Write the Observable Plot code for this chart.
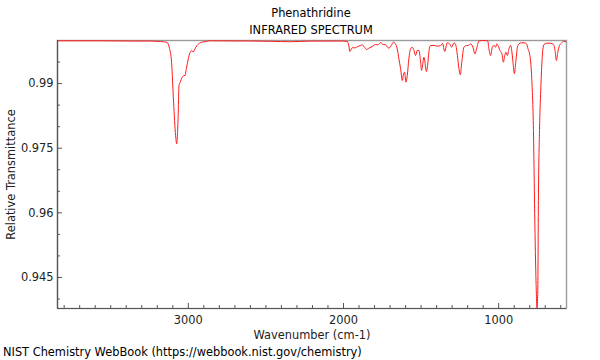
<!DOCTYPE html>
<html>
<head>
<meta charset="utf-8">
<script src="https://cdn.jsdelivr.net/npm/d3@7"></script>
<script src="https://cdn.jsdelivr.net/npm/@observablehq/plot@0.6"></script>
<style>
  body { margin: 0; background: #fff; }
  #wrap { position: relative; width: 600px; height: 360px; font-family: "DejaVu Sans", sans-serif; font-size: 11.4px; color: #000; }
  .t { position: absolute; left: 0; width: 622px; text-align: center; line-height: 14px; white-space: nowrap; }
  #cap { position: absolute; left: 3px; top: 344px; line-height: 16px; white-space: nowrap; }
  #chart { position: absolute; left: 0; top: 36px; }
</style>
</head>
<body>
<div id="wrap">
  <div class="t" style="top:6px">Phenathridine</div>
  <div class="t" style="top:23px">INFRARED SPECTRUM</div>
  <div id="chart"></div>
  <div id="cap">NIST Chemistry WebBook (https://webbook.nist.gov/chemistry)</div>
</div>
<script>
// Spectrum values
const wavenumber = [
  3843, 3568, 3374, 3245, 3200, 3161, 3137, 3121, 3108, 3095,
  3082, 3075, 3066, 3060, 3052, 3039, 3030, 3021, 3013, 3000,
  2992, 2979, 2970, 2957, 2944, 2923, 2890, 2858, 2600, 2471,
  2342, 2213, 2019, 1976, 1966, 1959, 1944, 1923, 1908, 1890,
  1879, 1865, 1852, 1837, 1815, 1794, 1779, 1761, 1744, 1729,
  1708, 1692, 1679, 1665, 1654, 1643, 1632, 1621, 1615, 1606,
  1598, 1589, 1579, 1568, 1557, 1546, 1536, 1525, 1514, 1503,
  1497, 1488, 1482, 1475, 1466, 1458, 1450, 1439, 1417, 1395,
  1374, 1361, 1348, 1331, 1316, 1303, 1288, 1277, 1266, 1256,
  1247, 1239, 1224, 1208, 1196, 1181, 1166, 1153, 1140, 1127,
  1105, 1084, 1071, 1063, 1052, 1041, 1030, 1019, 1013, 1004,
  992, 979, 970, 961, 953, 944, 934, 923, 916, 908,
  899, 890, 879, 869, 854, 837, 821, 811, 797, 787,
  776, 768, 759, 753, 748, 744, 737, 733, 729, 724,
  716, 708, 690, 664, 647, 637, 628, 619, 608, 596,
  583, 564
];
const transmittance = [
  0.99993, 0.99993, 0.99988, 0.99988, 0.99981, 0.9997, 0.99954, 0.99814, 0.99497, 0.98569,
  0.97796, 0.97603, 0.9819, 0.98956, 0.99033, 0.99149, 0.99188, 0.99188, 0.99343, 0.99575,
  0.99691, 0.99768, 0.99729, 0.99807, 0.99884, 0.99947, 0.99977, 0.99993, 0.99988, 0.99981,
  0.99972, 0.99986, 0.99988, 0.99977, 0.99884, 0.99745, 0.99831, 0.99831, 0.99861, 0.99884,
  0.999, 0.99845, 0.99791, 0.99821, 0.99861, 0.99907, 0.999, 0.99947, 0.99907, 0.999,
  0.99821, 0.99884, 0.99961, 0.99923, 0.99807, 0.99575, 0.99343, 0.99072, 0.99188, 0.99265,
  0.99033, 0.99188, 0.99575, 0.99807, 0.99845, 0.99768, 0.99652, 0.99768, 0.99768, 0.99497,
  0.99304, 0.99497, 0.99613, 0.99497, 0.99281, 0.9942, 0.99729, 0.99884, 0.99884, 0.99868,
  0.99884, 0.9993, 0.99745, 0.99947, 0.99923, 0.99845, 0.99947, 0.999, 0.99652, 0.99343,
  0.99204, 0.99459, 0.99845, 0.99884, 0.99884, 0.99923, 0.99845, 0.99691, 0.99845, 0.99993,
  1.0, 1.0, 0.99993, 0.99807, 0.99652, 0.99845, 0.99884, 0.99845, 0.99923, 0.99884,
  0.99768, 0.99691, 0.99497, 0.99652, 0.99729, 0.99652, 0.99807, 0.99884, 0.99768, 0.99497,
  0.99227, 0.99497, 0.99845, 0.99923, 0.99947, 0.99947, 0.99923, 0.99807, 0.99606, 0.99118,
  0.97912, 0.95986, 0.94362, 0.9378, 0.942, 0.96288, 0.97912, 0.98446, 0.9884, 0.99304,
  0.99768, 0.99907, 0.99937, 0.99937, 0.99907, 0.99768, 0.99536, 0.99729, 0.99884, 0.99937,
  0.99984, 0.99965
];

// Axes
const xDomain = [3843, 563];
const yDomain = [0.9378, 1.0];
const xTickLabels = [3000, 2000, 1000];
const xMinorTicks = [600, 700, 800, 900, 1100, 1200, 1300, 1400, 1500, 1600, 1700, 1800, 1900,
  2100, 2200, 2300, 2400, 2500, 2600, 2700, 2800, 2900, 3100, 3200, 3300, 3400, 3500, 3600, 3700, 3800];
const yTickLabels = [0.945, 0.96, 0.975, 0.99];
const yMinorTicks = [0.94, 0.95, 0.955, 0.965, 0.97, 0.98, 0.985, 0.995];
const xLabel = "Wavenumber (cm-1)";
const yLabel = "Relative Transmittance";

const spectrum = wavenumber.map((w, i) => ({w, t: transmittance[i]}));

const W = 600, H = 307;
const mL = 57, mR = 34, mT = 4, mB = 35;
const plotW = W - mL - mR, plotH = H - mT - mB;
const axisColor = "#555";

const chart = Plot.plot({
  width: W, height: H,
  marginLeft: mL, marginRight: mR, marginTop: mT, marginBottom: mB,
  style: {fontFamily: "DejaVu Sans, sans-serif", fontSize: "11.4px", color: "#000", background: "#fff"},
  x: {domain: xDomain, axis: null},
  y: {domain: yDomain, axis: null},
  marks: [
    Plot.frame({stroke: "#9a9a9a", strokeWidth: 1.4}),
    Plot.line(spectrum, {x: "w", y: "t", stroke: "#ff1a1a", strokeWidth: 1, curve: "monotone-x", clip: true}),
    Plot.ruleX([xDomain[0]], {stroke: axisColor, strokeWidth: 1.2}),
    Plot.ruleY([yDomain[0]], {stroke: axisColor, strokeWidth: 1.2}),
    Plot.ruleY(yTickLabels, {stroke: axisColor, insetRight: plotW - 5}),
    Plot.ruleY(yMinorTicks, {stroke: axisColor, insetRight: plotW - 3}),
    Plot.ruleX(xTickLabels, {stroke: axisColor, insetTop: plotH - 5}),
    Plot.ruleX(xMinorTicks, {stroke: axisColor, insetTop: plotH - 3}),
    Plot.axisY({ticks: yTickLabels, tickSize: 0, tickPadding: 4, tickFormat: d => String(d), label: null, fill: "#222"}),
    Plot.axisX({ticks: xTickLabels, tickSize: 0, tickPadding: 7.5, tickFormat: d => String(d), label: null, fill: "#222"}),
    Plot.text([xLabel], {frameAnchor: "bottom", dy: 26.5, lineAnchor: "middle", text: d => d, fill: "#222"}),
    Plot.text([yLabel], {frameAnchor: "left", dx: -46.5, rotate: -90, lineAnchor: "middle", textAnchor: "middle", text: d => d, fill: "#222"})
  ]
});
document.getElementById("chart").appendChild(chart);
</script>
</body>
</html>
